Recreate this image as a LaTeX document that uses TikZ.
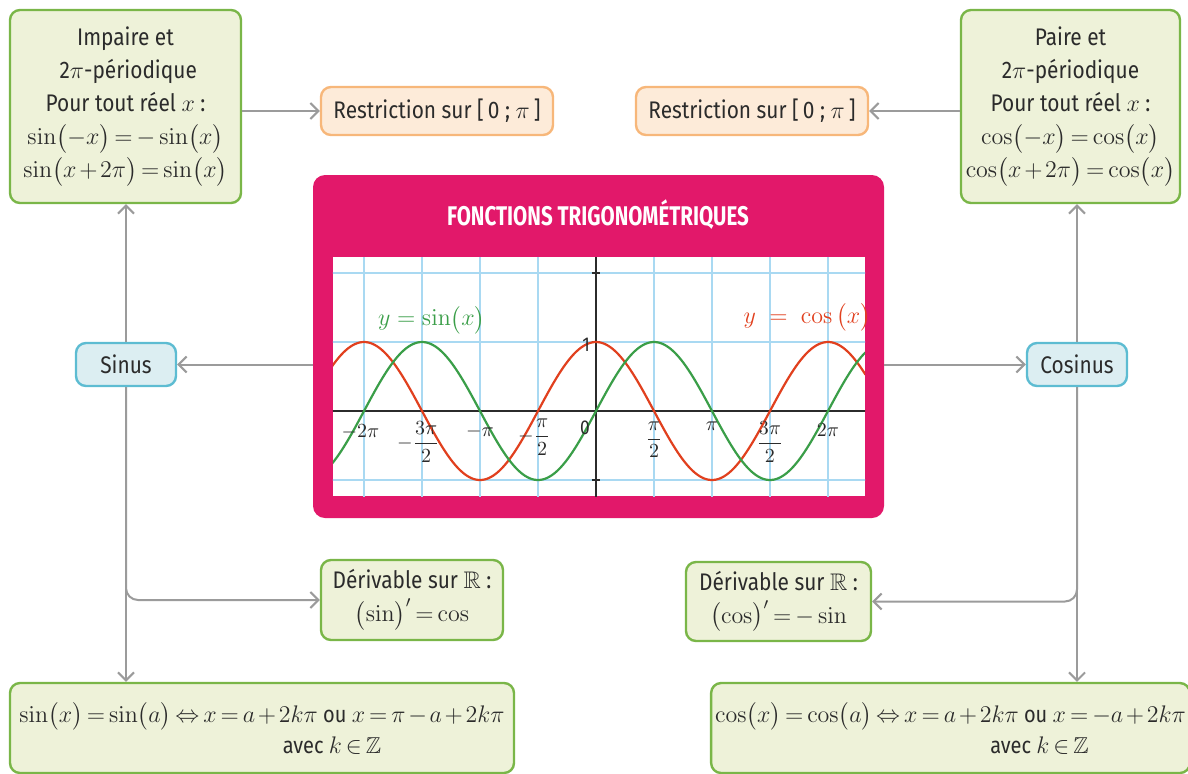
\documentclass[tikz,border=0pt]{standalone}
\usepackage{amsmath,amssymb}
\usepackage[no-math]{fontspec}
\setmainfont{Fira Sans}[FakeStretch=0.87]
\newfontfamily\titlefont{Fira Sans}[FakeStretch=0.76]
\usetikzlibrary{arrows.meta}
\newcommand\mytightmath{\thickmuskip=3mu\relax\medmuskip=2mu\relax}
\definecolor{gfill}{HTML}{EEF2D9}
\definecolor{gborder}{HTML}{7AB648}
\definecolor{ofill}{HTML}{FDEBD9}
\definecolor{oborder}{HTML}{F7B77A}
\definecolor{bfill}{HTML}{DCEEF2}
\definecolor{bborder}{HTML}{5DBCD2}
\definecolor{magentab}{HTML}{E2186A}
\definecolor{lgray}{HTML}{9B9B9B}
\definecolor{gridc}{HTML}{A9D9F2}
\definecolor{sinc}{HTML}{3A9E48}
\definecolor{cosc}{HTML}{E1401E}
\definecolor{txt}{HTML}{2B2B2B}
\begin{document}
\begin{tikzpicture}[x=0.5pt,y=-0.5pt,
  box/.style={line width=1.2pt, rounded corners=5pt, align=center, inner sep=2pt, text=txt,
    font=\fontsize{12}{16.5}\selectfont\mytightmath},
  greenbox/.style={box, draw=gborder, fill=gfill},
  orangebox/.style={box, draw=oborder, fill=ofill},
  bluebox/.style={box, draw=bborder, fill=bfill},
  widebox/.style={greenbox, font=\fontsize{11.5}{15.5}\selectfont\mytightmath},
  conn/.style={draw=lgray, line width=1pt, -{Straight Barb[length=4pt,width=8pt]}},
  ticklab/.style={text=txt, font=\fontsize{10}{12}\selectfont, inner sep=1pt}
]
\useasboundingbox (0,0) rectangle (1188,773);

% top boxes
\node[greenbox, minimum width=115.5pt, minimum height=96.5pt] (tl) at (125.5,106.5)
  {Impaire et\\ \ 2$\pi$-périodique\\ Pour tout réel $x$ :\\
   $\sin\bigl(-x\bigr)=-\sin\bigl(x\bigr)$\\ $\sin\bigl(x+2\pi\bigr)=\sin\bigl(x\bigr)$};
\node[greenbox, minimum width=109.5pt, minimum height=96.5pt] (tr) at (1070.5,106.5)
  {Paire et\\ 2$\pi$-périodique\\ Pour tout réel $x$ :\\
   $\cos\bigl(-x\bigr)=\cos\bigl(x\bigr)$\\ $\cos\bigl(x+2\pi\bigr)=\cos\bigl(x\bigr)$};
\node[orangebox, minimum width=116pt, minimum height=24pt] (rl) at (437,111)
  {Restriction sur [\,0 ; $\pi$\,]};
\node[orangebox, minimum width=116pt, minimum height=24pt] (rr) at (752,111)
  {Restriction sur [\,0 ; $\pi$\,]};

% main box
\node[fill=magentab, rounded corners=6pt, minimum width=285.5pt, minimum height=171.5pt, inner sep=0pt] (main) at (598.5,346.5) {};
\node[text=white, font=\titlefont\bfseries\fontsize{13.5}{15}\selectfont] (title) at (598,215) {FONCTIONS TRIGONOMÉTRIQUES};
\node[fill=white, minimum width=266pt, minimum height=119.5pt, inner sep=0pt] (plotarea) at (599,376.5) {};

\begin{scope}[shift={(596,411)}, x=18.46pt, y=34.5pt]
  \begin{scope}
    \clip (-7.124,-1.232) rectangle (7.286,2.232);
    \foreach \k in {-4,...,4}
      \draw[gridc, line width=0.6pt] ({\k*pi/2},-1.3) -- ({\k*pi/2},2.3);
    \foreach \v in {2,1,-1}
      \draw[gridc, line width=0.6pt] (-7.2,\v) -- (7.3,\v);
    \draw[txt, line width=0.9pt] (-7.2,0) -- (7.3,0);
    \draw[txt, line width=0.9pt] (0,-1.3) -- (0,2.3);
    \foreach \v in {2,1,-1}
      \draw[txt, line width=0.9pt] (-0.12,\v) -- (0.12,\v);
    \draw[cosc, line width=1.1pt, domain=-7.2:7.3, samples=240, smooth] plot (\x,{cos(\x r)});
    \draw[sinc, line width=1.1pt, domain=-7.2:7.3, samples=240, smooth] plot (\x,{sin(\x r)});
  \end{scope}
  \node[ticklab] (t1) at ({-2*pi-0.1},-0.3) {$-2\pi$};
  \node[ticklab] (t2) at ({-3*pi/2-0.1},-0.45) {$-\dfrac{3\pi}{2}$};
  \node[ticklab] (t3) at ({-pi},-0.3) {$-\pi$};
  \node[ticklab] (t4) at ({-pi/2-0.1},-0.38) {$-\dfrac{\pi}{2}$};
  \node[ticklab] (t0) at (-0.3,-0.25) {0};
  \node[ticklab] (t5) at ({pi/2},-0.42) {$\dfrac{\pi}{2}$};
  \node[ticklab] (t6) at ({pi},-0.22) {$\pi$};
  \node[ticklab] (t7) at ({3*pi/2},-0.45) {$\dfrac{3\pi}{2}$};
  \node[ticklab] (t8) at ({2*pi},-0.27) {$2\pi$};
  \node[ticklab] (one) at (-0.27,0.96) {1};
  \node[text=sinc, font=\fontsize{11.5}{13}\selectfont] (lsin) at (-4.45,1.32) {$y=\sin\bigl(x\bigr)$};
  \node[text=cosc, font=\fontsize{11.5}{13}\selectfont] (lcos) at (5.72,1.35) {$y\;=\;\cos\,\bigl(x\bigr)$};
\end{scope}

% side nodes
\node[bluebox, minimum width=50pt, minimum height=21.5pt] (sinus) at (126,364.5) {Sinus};
\node[bluebox, minimum width=50pt, minimum height=21.5pt] (cosinus) at (1077,364.5) {Cosinus};

% lower boxes
\node[greenbox, minimum width=91pt, minimum height=40pt] (dl) at (412,600)
  {Dérivable sur $\mathbb{R}$ :\\ $\bigl(\sin\bigr)'=\cos$};
\node[greenbox, minimum width=92.5pt, minimum height=39.5pt] (dr) at (778.5,601.5)
  {Dérivable sur $\mathbb{R}$ :\\ $\bigl(\cos\bigr)'=-\sin$};
\node[widebox, minimum width=252pt, minimum height=45pt] (bl) at (262,728)
  {$\sin\bigl(x\bigr)=\sin\bigl(a\bigr)\Leftrightarrow x=a+2k\pi$ ou $x=\pi-a+2k\pi$\\
   \hspace*{70pt}avec $k\in\mathbb{Z}$};
\node[widebox, minimum width=234.5pt, minimum height=45pt] (br) at (950.5,728)
  {$\cos\bigl(x\bigr)=\cos\bigl(a\bigr)\Leftrightarrow x=a+2k\pi$ ou $x=-a+2k\pi$\\
   \hspace*{89pt}avec $k\in\mathbb{Z}$};

% connectors
\draw[conn] (tl.east |- rl.west) -- (rl.west);
\draw[conn] (tr.west |- rr.east) -- (rr.east);
\draw[conn] (main.west |- sinus.east) -- (sinus.east);
\draw[conn] (main.east |- cosinus.west) -- (cosinus.west);
\draw[conn] (sinus.north) -- (sinus.north |- tl.south);
\draw[conn] (cosinus.north) -- (cosinus.north |- tr.south);
\draw[conn] (sinus.south) -- (sinus.south |- bl.north);
\draw[conn] (cosinus.south) -- (cosinus.south |- br.north);
\draw[conn, rounded corners=6pt] (sinus.south) -- (sinus.south |- dl.west) -- (dl.west);
\draw[conn, rounded corners=6pt] (cosinus.south) -- (cosinus.south |- dr.east) -- (dr.east);
\end{tikzpicture}
\end{document}
